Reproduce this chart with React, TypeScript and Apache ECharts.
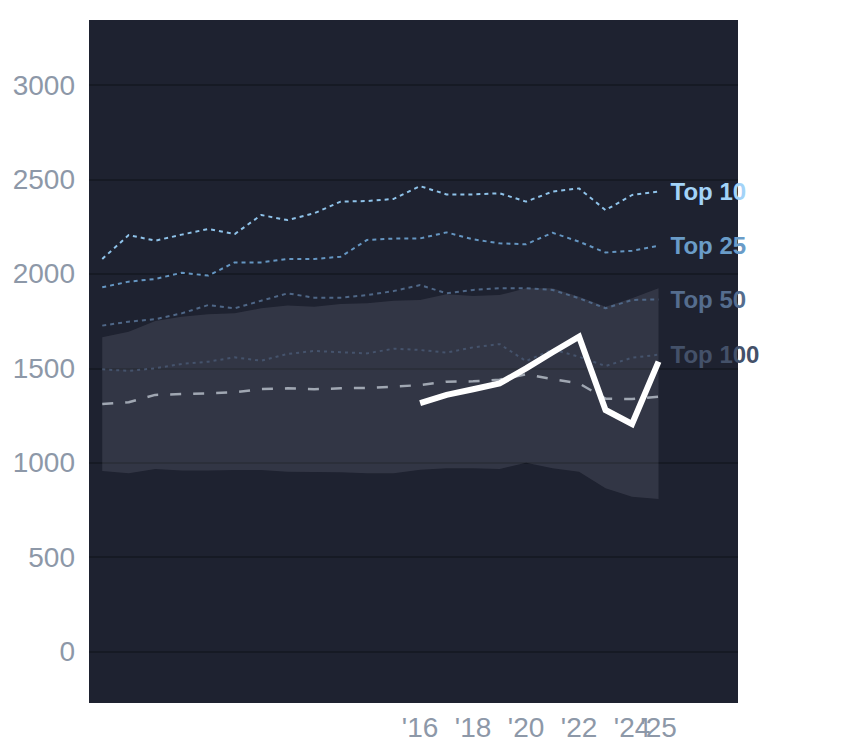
import React, { useEffect, useRef } from "react";
import * as echarts from "echarts";

const years = [2004, 2005, 2006, 2007, 2008, 2009, 2010, 2011, 2012, 2013, 2014, 2015, 2016, 2017, 2018, 2019, 2020, 2021, 2022, 2023, 2024, 2025];
const top10 = [2079, 2206, 2176, 2208, 2238, 2211, 2312, 2285, 2321, 2383, 2386, 2397, 2465, 2421, 2421, 2427, 2383, 2436, 2453, 2338, 2418, 2436];
const top25 = [1929, 1959, 1973, 2006, 1991, 2061, 2061, 2079, 2079, 2091, 2180, 2187, 2188, 2220, 2183, 2162, 2157, 2218, 2171, 2113, 2123, 2149];
const top50 = [1726, 1747, 1760, 1791, 1835, 1818, 1858, 1897, 1874, 1874, 1888, 1909, 1941, 1897, 1915, 1924, 1924, 1915, 1871, 1818, 1862, 1865];
const top100 = [1495, 1486, 1500, 1523, 1535, 1558, 1540, 1576, 1592, 1585, 1579, 1604, 1597, 1583, 1611, 1628, 1538, 1600, 1561, 1512, 1556, 1572];
const median = [1311, 1320, 1359, 1364, 1367, 1373, 1390, 1394, 1389, 1394, 1396, 1403, 1411, 1429, 1431, 1440, 1468, 1443, 1420, 1339, 1337, 1350];
const bandUpper = [1664, 1694, 1750, 1773, 1786, 1791, 1818, 1832, 1826, 1841, 1844, 1858, 1862, 1892, 1883, 1888, 1924, 1924, 1879, 1826, 1871, 1924];
const bandLower = [956, 944, 967, 958, 958, 961, 961, 952, 951, 949, 944, 944, 963, 970, 970, 967, 1000, 970, 952, 864, 820, 808];
const highlightYears = [2016, 2017, 2018, 2019, 2020, 2021, 2022, 2023, 2024, 2025];
const highlight = [1315, 1359, 1389, 1420, 1500, 1585, 1667, 1279, 1205, 1535];
const yTicks = [0, 500, 1000, 1500, 2000, 2500, 3000];
const xTicks = [2016, 2018, 2020, 2022, 2024];
const xTicksLast = [2025];

const FONT = "'Liberation Sans', Arial, sans-serif";

function pairs(xs: number[], ys: number[]) {
  return xs.map((x, i) => [x, ys[i]]);
}

function topLine(name: string, data: number[], color: string, labelColor: string, dash: number[]) {
  return {
    type: "line",
    name,
    data: pairs(years, data),
    showSymbol: false,
    symbol: "none",
    z: 4,
    lineStyle: { color, width: 2, type: dash },
    endLabel: {
      show: true,
      formatter: name,
      color: labelColor,
      fontSize: 24,
      fontWeight: "bold",
      fontFamily: FONT,
      distance: 12,
    },
  };
}

function xAxisFor(ticks: number[], show: boolean) {
  return {
    type: "value",
    min: 2003.5,
    max: 2028,
    position: "bottom",
    show,
    axisLine: { show: false },
    axisTick: { show: false, customValues: ticks },
    splitLine: { show: false },
    axisLabel: {
      customValues: ticks,
      hideOverlap: false,
      showMinLabel: true,
      showMaxLabel: true,
      formatter: (v: number) => "'" + String(v).slice(2),
      color: "#8d98a8",
      fontSize: 28,
      fontFamily: FONT,
      margin: 10,
    },
  };
}

export default function App() {
  const ref = useRef<HTMLDivElement>(null);
  useEffect(() => {
    document.body.style.margin = "0";
    const chart = echarts.init(ref.current!, null, { renderer: "svg" });
    chart.setOption({
      animation: false,
      backgroundColor: "#ffffff",
      grid: {
        left: 89,
        right: 106,
        top: 20,
        bottom: 45,
        show: true,
        backgroundColor: "#1e2230",
        borderWidth: 0,
      },
      xAxis: [xAxisFor(xTicks, true), xAxisFor(xTicksLast, true)],
      yAxis: {
        type: "value",
        min: -273,
        max: 3345,
        axisLine: { show: false },
        axisTick: { show: false, customValues: yTicks },
        axisLabel: {
          customValues: yTicks,
          formatter: (v: number) => String(v),
          color: "#8d98a8",
          fontSize: 28,
          fontFamily: FONT,
          margin: 14,
        },
        splitLine: { show: true, lineStyle: { color: "#161a24", width: 2 } },
      },
      series: [
        {
          type: "custom",
          name: "band",
          data: years.map((y, i) => [y, bandLower[i], bandUpper[i]]),
          z: 1,
          silent: true,
          renderItem: (params: any, api: any) => {
            if (params.dataIndex !== 0) return null;
            const pts: number[][] = [];
            years.forEach((y, i) => pts.push(api.coord([y, bandUpper[i]])));
            for (let i = years.length - 1; i >= 0; i--) pts.push(api.coord([years[i], bandLower[i]]));
            return {
              type: "polygon",
              shape: { points: pts },
              style: { fill: "rgba(235,240,255,0.1)" },
            };
          },
        },
        topLine("Top 10", top10, "#8fc3ea", "#a3d3f8", [4, 4]),
        topLine("Top 25", top25, "#6596c2", "#6a9cc8", [4, 4]),
        topLine("Top 50", top50, "#4f6787", "#556d8e", [4, 4]),
        topLine("Top 100", top100, "#45536c", "#445169", [3, 4]),
        {
          type: "line",
          name: "median",
          data: pairs(years, median),
          symbol: "none",
          z: 4,
          lineStyle: { color: "#a0a7b2", width: 2.5, type: [11, 12] },
        },
        {
          type: "line",
          name: "highlight",
          data: pairs(highlightYears, highlight),
          symbol: "none",
          z: 6,
          lineStyle: { color: "#ffffff", width: 6, join: "miter" },
        },
      ],
    });
    return () => chart.dispose();
  }, []);
  return <div ref={ref} style={{ width: 844, height: 748 }} />;
}
